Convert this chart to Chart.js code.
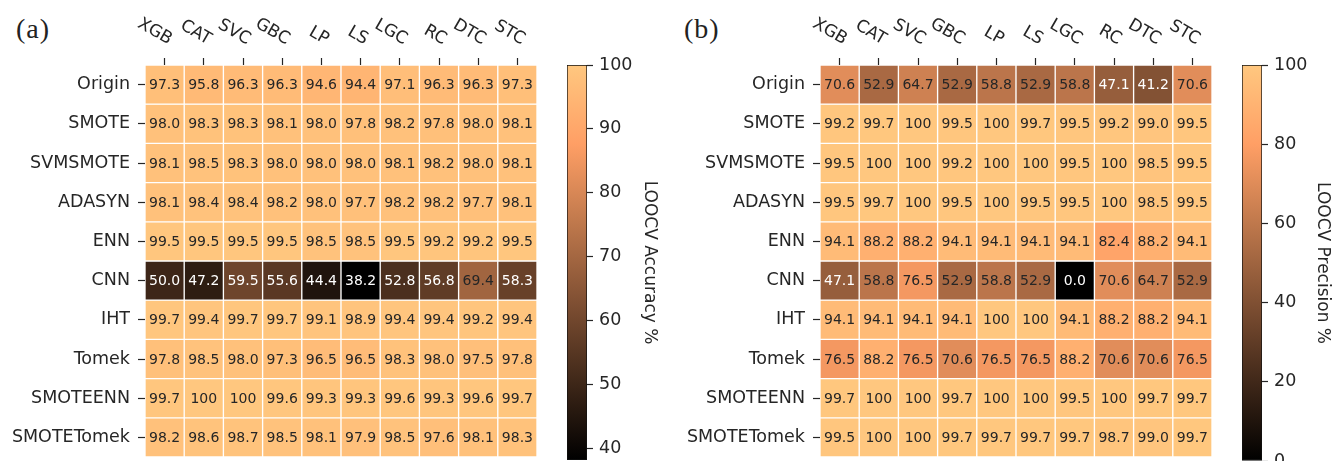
<!DOCTYPE html>
<html>
<head>
<meta charset="utf-8">
<script src="https://cdn.jsdelivr.net/npm/chart.js@4.4.0/dist/chart.umd.min.js"></script>
<style>
  body { margin: 0; background: #fff; width: 1338px; height: 461px; overflow: hidden; position: relative; }
  .box { position: absolute; top: 0; height: 461px; }
  .tag { position: absolute; top: 13px; font-family: "Liberation Serif", serif; font-size: 28px; letter-spacing: 1px; line-height: 32px; color: #222; }
</style>
</head>
<body>
<div class="tag" style="left:16px">(a)</div>
<div class="tag" style="left:684px">(b)</div>
<div class="box" style="left:0;width:560px"><canvas id="heat-a"></canvas></div>
<div class="box" style="left:560px;width:120px"><canvas id="bar-a"></canvas></div>
<div class="box" style="left:660px;width:575px"><canvas id="heat-b"></canvas></div>
<div class="box" style="left:1230px;width:108px"><canvas id="bar-b"></canvas></div>
<script>
const models = ["XGB", "CAT", "SVC", "GBC", "LP", "LS", "LGC", "RC", "DTC", "STC"];
const samplers = ["Origin", "SMOTE", "SVMSMOTE", "ADASYN", "ENN", "CNN", "IHT", "Tomek", "SMOTEENN", "SMOTETomek"];

// LOOCV accuracy %, one row per sampler
const accuracy = [
    [97.3, 95.8, 96.3, 96.3, 94.6, 94.4, 97.1, 96.3, 96.3, 97.3],
    [98.0, 98.3, 98.3, 98.1, 98.0, 97.8, 98.2, 97.8, 98.0, 98.1],
    [98.1, 98.5, 98.3, 98.0, 98.0, 98.0, 98.1, 98.2, 98.0, 98.1],
    [98.1, 98.4, 98.4, 98.2, 98.0, 97.7, 98.2, 98.2, 97.7, 98.1],
    [99.5, 99.5, 99.5, 99.5, 98.5, 98.5, 99.5, 99.2, 99.2, 99.5],
    [50.0, 47.2, 59.5, 55.6, 44.4, 38.2, 52.8, 56.8, 69.4, 58.3],
    [99.7, 99.4, 99.7, 99.7, 99.1, 98.9, 99.4, 99.4, 99.2, 99.4],
    [97.8, 98.5, 98.0, 97.3, 96.5, 96.5, 98.3, 98.0, 97.5, 97.8],
    [99.7, 100, 100, 99.6, 99.3, 99.3, 99.6, 99.3, 99.6, 99.7],
    [98.2, 98.6, 98.7, 98.5, 98.1, 97.9, 98.5, 97.6, 98.1, 98.3]
];

// LOOCV precision %
const precision = [
    [70.6, 52.9, 64.7, 52.9, 58.8, 52.9, 58.8, 47.1, 41.2, 70.6],
    [99.2, 99.7, 100, 99.5, 100, 99.7, 99.5, 99.2, 99.0, 99.5],
    [99.5, 100, 100, 99.2, 100, 100, 99.5, 100, 98.5, 99.5],
    [99.5, 99.7, 100, 99.5, 100, 99.5, 99.5, 100, 98.5, 99.5],
    [94.1, 88.2, 88.2, 94.1, 94.1, 94.1, 94.1, 82.4, 88.2, 94.1],
    [47.1, 58.8, 76.5, 52.9, 58.8, 52.9, 0.0, 70.6, 64.7, 52.9],
    [94.1, 94.1, 94.1, 94.1, 100, 100, 94.1, 88.2, 88.2, 94.1],
    [76.5, 88.2, 76.5, 70.6, 76.5, 76.5, 88.2, 70.6, 70.6, 76.5],
    [99.7, 100, 100, 99.7, 100, 100, 99.5, 100, 99.7, 99.7],
    [99.5, 100, 100, 99.7, 99.7, 99.7, 99.7, 98.7, 99.0, 99.7]
];

const accTicks = [40, 50, 60, 70, 80, 90, 100];
const precTicks = [0, 20, 40, 60, 80, 100];
const accRange = [38.2, 100];
const precRange = [0, 100];

const FONT = "DejaVu Sans";
const INK = "#262626";

// matplotlib "copper"
function copper(t) {
    t = Math.max(0, Math.min(1, t));
    const r = Math.min(1, 1.25 * t), g = 0.7812 * t, b = 0.4975 * t;
    return `rgb(${Math.round(r * 255)},${Math.round(g * 255)},${Math.round(b * 255)})`;
}

const cellText = {
    id: "cellText",
    afterDatasetsDraw(chart, args, opts) {
        const ctx = chart.ctx;
        ctx.save();
        ctx.font = `14px "${FONT}"`;
        ctx.textAlign = "center";
        ctx.textBaseline = "middle";
        chart.data.datasets.forEach((ds, r) => {
            chart.getDatasetMeta(r).data.forEach((el, c) => {
                const v = opts.values[r][c];
                const t = (v - opts.range[0]) / (opts.range[1] - opts.range[0]);
                ctx.fillStyle = t < 0.5 ? "#fff" : INK;
                ctx.fillText(v === 100 ? "100" : v.toFixed(1), el.x, (el.y + el.base) / 2 + 1);
            });
        });
        ctx.restore();
    }
};

const colLabels = {
    id: "colLabels",
    afterDraw(chart) {
        const ctx = chart.ctx, xs = chart.scales.x;
        const a = Math.PI / 6, h = 12;
        ctx.save();
        ctx.font = `17px "${FONT}"`;
        ctx.fillStyle = INK;
        ctx.textAlign = "center";
        ctx.textBaseline = "middle";
        models.forEach((m, i) => {
            const x = xs.getPixelForTick(i);
            const w = ctx.measureText(m).width;
            const bw = w * Math.cos(a) + h * Math.sin(a);
            const bh = w * Math.sin(a) + h * Math.cos(a);
            ctx.save();
            ctx.translate(x + 9 - bw / 2, 46 - bh / 2);
            ctx.rotate(a);
            ctx.fillText(m, 0, 0);
            ctx.restore();
        });
        ctx.restore();
    }
};

function heatmap(id, values, range, axisW) {
    const datasets = samplers.map((name, r) => ({
        label: name,
        data: models.map(() => 1),
        backgroundColor: values[r].map(v => copper((v - range[0]) / (range[1] - range[0]))),
        borderColor: "#fff",
        borderWidth: 1,
        borderSkipped: false,
        barPercentage: 1,
        categoryPercentage: 1
    }));
    new Chart(document.getElementById(id), {
        type: "bar",
        data: { labels: models, datasets },
        plugins: [cellText, colLabels],
        options: {
            responsive: true,
            maintainAspectRatio: false,
            animation: false,
            layout: { padding: { left: 0, right: 23, top: 0, bottom: 4 } },
            plugins: {
                legend: { display: false },
                tooltip: { enabled: false },
                cellText: { values, range }
            },
            scales: {
                x: {
                    position: "top",
                    stacked: true,
                    offset: true,
                    grid: { offset: false, drawOnChartArea: false, tickLength: 7, tickColor: INK, tickWidth: 1.2 },
                    border: { display: false },
                    ticks: { display: false },
                    afterFit: s => { s.height = 65; s.paddingLeft = 0; s.paddingRight = 0; }
                },
                y: {
                    type: "linear",
                    min: 0,
                    max: 10,
                    reverse: true,
                    stacked: true,
                    afterBuildTicks: s => { s.ticks = samplers.map((_, i) => ({ value: i + 0.5 })); },
                    afterFit: s => { s.width = axisW; s.paddingTop = 0; s.paddingBottom = 0; },
                    grid: { drawOnChartArea: false, tickLength: 7, tickColor: INK, tickWidth: 1.2 },
                    border: { display: false },
                    ticks: {
                        autoSkip: false,
                        padding: 8,
                        color: INK,
                        font: { family: FONT, size: 17.5 },
                        callback: v => samplers[Math.floor(v)]
                    }
                }
            }
        }
    });
}

function colorbar(id, range, ticks, title, pad, axisW) {
    new Chart(document.getElementById(id), {
        type: "bar",
        data: {
            labels: [""],
            datasets: [{
                data: [range],
                backgroundColor: c => {
                    const area = c.chart.chartArea;
                    if (!area) return copper(1);
                    const g = c.chart.ctx.createLinearGradient(0, area.bottom, 0, area.top);
                    [0, 0.2, 0.4, 0.6, 0.8, 1].forEach(t => g.addColorStop(t, copper(t)));
                    return g;
                },
                borderColor: "#111",
                borderWidth: 1,
                borderSkipped: false,
                barPercentage: 1,
                categoryPercentage: 1
            }]
        },
        options: {
            responsive: true,
            maintainAspectRatio: false,
            animation: false,
            layout: { padding: pad },
            plugins: { legend: { display: false }, tooltip: { enabled: false } },
            scales: {
                x: { display: false },
                y: {
                    position: "right",
                    min: range[0],
                    max: range[1],
                    afterBuildTicks: s => { s.ticks = ticks.map(v => ({ value: v })); },
                    afterFit: s => { s.width = axisW; s.paddingTop = 0; s.paddingBottom = 0; },
                    grid: { drawOnChartArea: false, tickLength: 6, tickColor: INK, tickWidth: 1.2 },
                    border: { display: false },
                    ticks: { padding: 6, color: INK, font: { family: FONT, size: 17.5 } },
                    title: { display: true, text: title, color: INK, padding: 0, font: { family: FONT, size: 17 } }
                }
            }
        }
    });
}

heatmap("heat-a", accuracy, accRange, 145);
heatmap("heat-b", precision, precRange, 160);
colorbar("bar-a", accRange, accTicks, "LOOCV Accuracy %", { left: 7, right: 20, top: 65, bottom: 1 }, 73);
colorbar("bar-b", precRange, precTicks, "LOOCV Precision %", { left: 12, right: 5, top: 65, bottom: 0 }, 71);
</script>
</body>
</html>
